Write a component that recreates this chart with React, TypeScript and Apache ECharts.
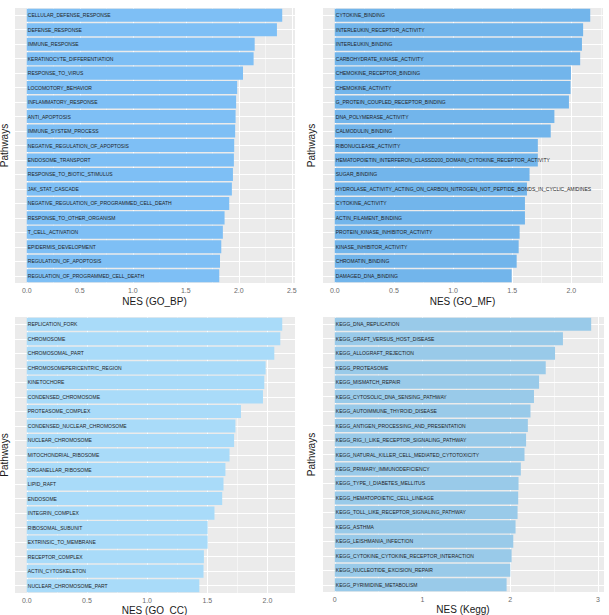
import React, { useEffect, useRef } from "react";
import * as echarts from "echarts";

// GO biological process
const bpPathways = [
  "CELLULAR_DEFENSE_RESPONSE",
  "DEFENSE_RESPONSE",
  "IMMUNE_RESPONSE",
  "KERATINOCYTE_DIFFERENTIATION",
  "RESPONSE_TO_VIRUS",
  "LOCOMOTORY_BEHAVIOR",
  "INFLAMMATORY_RESPONSE",
  "ANTI_APOPTOSIS",
  "IMMUNE_SYSTEM_PROCESS",
  "NEGATIVE_REGULATION_OF_APOPTOSIS",
  "ENDOSOME_TRANSPORT",
  "RESPONSE_TO_BIOTIC_STIMULUS",
  "JAK_STAT_CASCADE",
  "NEGATIVE_REGULATION_OF_PROGRAMMED_CELL_DEATH",
  "RESPONSE_TO_OTHER_ORGANISM",
  "T_CELL_ACTIVATION",
  "EPIDERMIS_DEVELOPMENT",
  "REGULATION_OF_APOPTOSIS",
  "REGULATION_OF_PROGRAMMED_CELL_DEATH",
];
const bpNes = [2.41, 2.36, 2.15, 2.14, 2.04, 1.985, 1.975, 1.97, 1.966, 1.957, 1.954, 1.945, 1.935, 1.91, 1.866, 1.85, 1.835, 1.823, 1.816];

// GO molecular function
const mfPathways = [
  "CYTOKINE_BINDING",
  "INTERLEUKIN_RECEPTOR_ACTIVITY",
  "INTERLEUKIN_BINDING",
  "CARBOHYDRATE_KINASE_ACTIVITY",
  "CHEMOKINE_RECEPTOR_BINDING",
  "CHEMOKINE_ACTIVITY",
  "G_PROTEIN_COUPLED_RECEPTOR_BINDING",
  "DNA_POLYMERASE_ACTIVITY",
  "CALMODULIN_BINDING",
  "RIBONUCLEASE_ACTIVITY",
  "HEMATOPOIETIN_INTERFERON_CLASSD200_DOMAIN_CYTOKINE_RECEPTOR_ACTIVITY",
  "SUGAR_BINDING",
  "HYDROLASE_ACTIVITY_ACTING_ON_CARBON_NITROGEN_NOT_PEPTIDE_BONDS_IN_CYCLIC_AMIDINES",
  "CYTOKINE_ACTIVITY",
  "ACTIN_FILAMENT_BINDING",
  "PROTEIN_KINASE_INHIBITOR_ACTIVITY",
  "KINASE_INHIBITOR_ACTIVITY",
  "CHROMATIN_BINDING",
  "DAMAGED_DNA_BINDING",
];
const mfNes = [2.16, 2.1, 2.09, 2.075, 1.997, 1.994, 1.98, 1.857, 1.826, 1.717, 1.717, 1.647, 1.625, 1.608, 1.608, 1.563, 1.555, 1.538, 1.496];

// GO cellular component
const ccPathways = [
  "REPLICATION_FORK",
  "CHROMOSOME",
  "CHROMOSOMAL_PART",
  "CHROMOSOMEPERICENTRIC_REGION",
  "KINETOCHORE",
  "CONDENSED_CHROMOSOME",
  "PROTEASOME_COMPLEX",
  "CONDENSED_NUCLEAR_CHROMOSOME",
  "NUCLEAR_CHROMOSOME",
  "MITOCHONDRIAL_RIBOSOME",
  "ORGANELLAR_RIBOSOME",
  "LIPID_RAFT",
  "ENDOSOME",
  "INTEGRIN_COMPLEX",
  "RIBOSOMAL_SUBUNIT",
  "EXTRINSIC_TO_MEMBRANE",
  "RECEPTOR_COMPLEX",
  "ACTIN_CYTOSKELETON",
  "NUCLEAR_CHROMOSOME_PART",
];
const ccNes = [2.123, 2.107, 2.057, 1.985, 1.974, 1.963, 1.78, 1.734, 1.723, 1.685, 1.651, 1.635, 1.624, 1.56, 1.503, 1.503, 1.472, 1.469, 1.434];

// KEGG
const keggPathways = [
  "KEGG_DNA_REPLICATION",
  "KEGG_GRAFT_VERSUS_HOST_DISEASE",
  "KEGG_ALLOGRAFT_REJECTION",
  "KEGG_PROTEASOME",
  "KEGG_MISMATCH_REPAIR",
  "KEGG_CYTOSOLIC_DNA_SENSING_PATHWAY",
  "KEGG_AUTOIMMUNE_THYROID_DISEASE",
  "KEGG_ANTIGEN_PROCESSING_AND_PRESENTATION",
  "KEGG_RIG_I_LIKE_RECEPTOR_SIGNALING_PATHWAY",
  "KEGG_NATURAL_KILLER_CELL_MEDIATED_CYTOTOXICITY",
  "KEGG_PRIMARY_IMMUNODEFICIENCY",
  "KEGG_TYPE_I_DIABETES_MELLITUS",
  "KEGG_HEMATOPOIETIC_CELL_LINEAGE",
  "KEGG_TOLL_LIKE_RECEPTOR_SIGNALING_PATHWAY",
  "KEGG_ASTHMA",
  "KEGG_LEISHMANIA_INFECTION",
  "KEGG_CYTOKINE_CYTOKINE_RECEPTOR_INTERACTION",
  "KEGG_NUCLEOTIDE_EXCISION_REPAIR",
  "KEGG_PYRIMIDINE_METABOLISM",
];
const keggNes = [2.922, 2.6, 2.51, 2.404, 2.328, 2.27, 2.23, 2.2, 2.18, 2.162, 2.12, 2.094, 2.09, 2.083, 2.06, 2.034, 2.015, 2.0, 1.958];

const axisTitles = ["NES (GO_BP)", "NES (GO_MF)", "NES (GO_CC)", "NES (Kegg)"];
const barColors = ["#7EBFF5", "#72B5EB", "#A9DBF9", "#99CAE9"];

const panels = [
  { cats: bpPathways, vals: bpNes, grid: { left: 14, top: 8, width: 281, height: 275 }, split: 5, nameGap: 13, yGap: 5 },
  { cats: mfPathways, vals: mfNes, grid: { left: 322, top: 8, width: 281, height: 275 }, split: 5, nameGap: 13, yGap: 6 },
  { cats: ccPathways, vals: ccNes, grid: { left: 14, top: 317, width: 281, height: 276 }, split: 5, nameGap: 12, yGap: 5 },
  { cats: keggPathways, vals: keggNes, grid: { left: 322, top: 317, width: 282, height: 275 }, split: 3, nameGap: 12, yGap: 6 },
];

const FONT = "Liberation Sans, Arial, Helvetica, sans-serif";

export default function App() {
  const ref = useRef<HTMLDivElement>(null);

  useEffect(() => {
    if (!ref.current) return;
    const chart = echarts.init(ref.current, undefined, { renderer: "svg" });

    const grids = panels.map((p) => ({
      ...p.grid,
      show: true,
      backgroundColor: "#EBEBEB",
      borderWidth: 0,
      containLabel: false,
      outerBoundsMode: "none",
    }));

    const xAxes = panels.map((p, i) => {
      const maxVal = Math.max(...p.vals);
      return {
        type: "value",
        gridIndex: i,
        min: -0.05 * maxVal,
        max: 1.05 * maxVal,
        splitNumber: p.split,
        name: axisTitles[i],
        nameLocation: "middle",
        nameGap: p.nameGap,
        nameTextStyle: { fontFamily: FONT, fontSize: 10, color: "#1a1a1a" },
        axisLine: { show: false },
        axisTick: { show: false },
        axisLabel: {
          show: true,
          showMinLabel: false,
          showMaxLabel: false,
          margin: 4,
          fontFamily: FONT,
          fontSize: 7,
          color: "#6b6b6b",
          formatter: (v: number) => (i === 3 ? String(Math.round(v)) : v.toFixed(1)),
        },
        splitLine: { show: true, lineStyle: { color: "#FFFFFF", width: 1 } },
        minorTick: { show: false, splitNumber: 2 },
        minorSplitLine: { show: true, lineStyle: { color: "#FFFFFF", width: 0.5 } },
      };
    });

    const yAxes = panels.map((p, i) => ({
      type: "category",
      gridIndex: i,
      data: p.cats,
      inverse: true,
      name: "Pathways",
      nameLocation: "middle",
      nameRotate: 90,
      nameGap: p.yGap,
      nameTextStyle: { fontFamily: FONT, fontSize: 10, color: "#1a1a1a" },
      axisLine: { show: false },
      axisTick: { show: false },
      axisLabel: { show: false },
      splitLine: { show: false },
    }));

    const series = panels.map((p, i) => ({
      type: "bar",
      xAxisIndex: i,
      yAxisIndex: i,
      data: p.vals,
      barCategoryGap: "10%",
      itemStyle: { color: barColors[i] },
      label: {
        show: true,
        position: "insideLeft",
        distance: 1,
        formatter: "{b}",
        fontFamily: FONT,
        fontSize: 5,
        color: "#1f1f1f",
      },
      // horizontal gridlines at each category, drawn beneath the bars
      markLine: {
        z: 1,
        silent: true,
        symbol: ["none", "none"],
        label: { show: false },
        lineStyle: { color: "#FFFFFF", width: 1, type: "solid" },
        data: p.cats.map((c) => ({ yAxis: c })),
      },
    }));

    chart.setOption({
      animation: false,
      backgroundColor: "#FFFFFF",
      grid: grids,
      xAxis: xAxes,
      yAxis: yAxes,
      series,
    });

    return () => chart.dispose();
  }, []);

  return (
    <div
      ref={ref}
      style={{ position: "absolute", left: 0, top: 0, width: 609, height: 615 }}
    />
  );
}
